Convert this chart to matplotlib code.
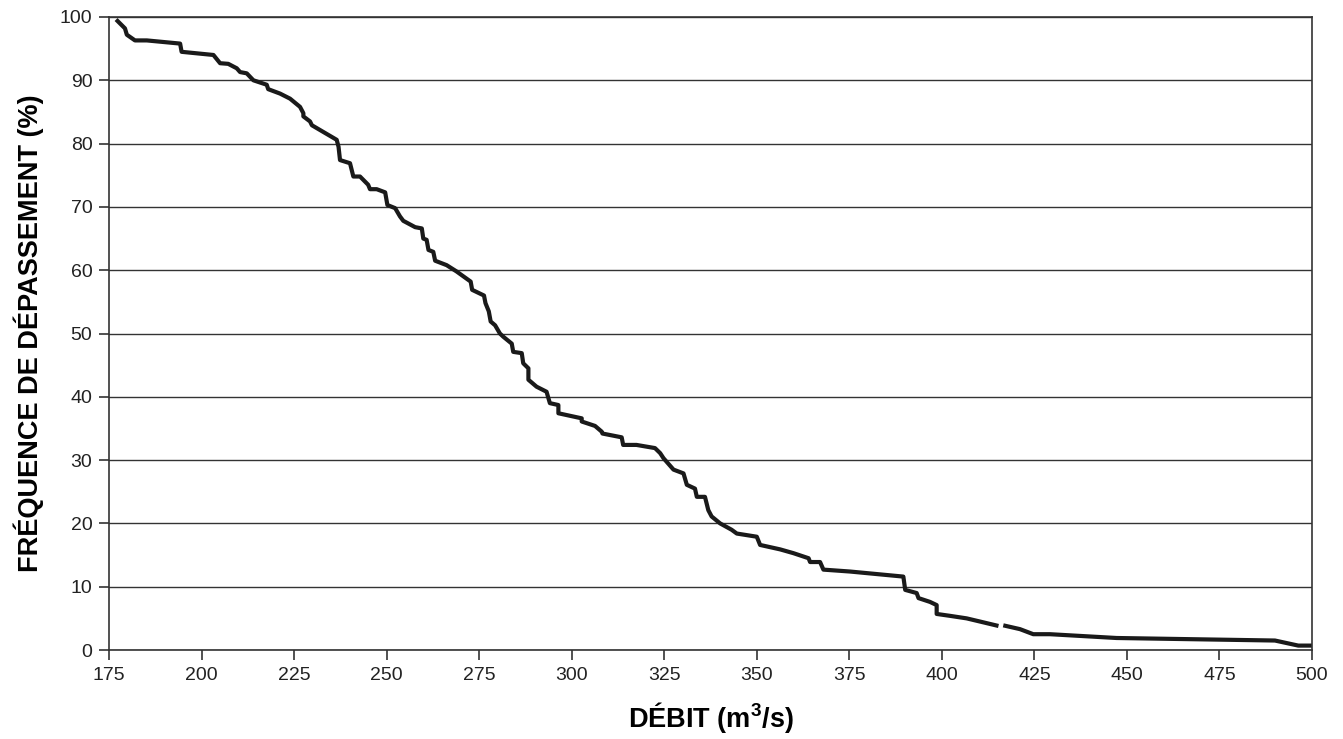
import matplotlib.pyplot as plt
import numpy as np

plt.rcParams['font.family'] = ['Liberation Sans', 'DejaVu Sans']
plt.rcParams['mathtext.fontset'] = 'custom'
plt.rcParams['mathtext.rm'] = 'Liberation Sans'
plt.rcParams['mathtext.bf'] = 'Liberation Sans:bold'

# débit (m3/s) et fréquence de dépassement (%)
debit = [176.9, 179.3, 179.8, 182.0, 185.2, 194.2, 194.6, 203.2, 205.0, 207.2,
         209.5, 210.4, 212.2, 214.0, 217.6, 218.0, 221.2, 223.9, 226.6, 227.5,
         227.5, 229.3, 229.8, 236.5, 237.0, 237.4, 240.1, 241.0, 242.8, 245.0,
         245.5, 247.3, 249.6, 250.2, 252.3, 253.6, 254.5, 257.7, 259.5, 259.9,
         260.8, 261.3, 262.6, 263.1, 266.2, 268.9, 272.7, 273.1, 276.3, 276.7,
         277.6, 278.1, 279.3, 280.6, 281.5, 283.8, 284.2, 286.5, 286.9, 288.3,
         288.3, 290.5, 293.2, 294.1, 296.4, 296.4, 302.7, 302.7, 306.3, 308.1,
         308.3, 313.5, 313.9, 317.5, 322.5, 323.9, 324.8, 327.5, 330.2, 331.1,
         333.3, 333.8, 336.0, 336.9, 337.8, 340.1, 343.2, 344.6, 350.0, 350.9,
         356.3, 359.9, 364.0, 364.4, 367.1, 368.0, 375.2, 389.6, 390.1, 393.2,
         393.7, 396.8, 398.6, 398.6, 402.2, 406.7, 410.3, 415.3, 416.0, 416.6,
         421.1, 424.7, 429.2, 447.2, 490.0, 496.3, 500.0]
frequence = [99.6, 98.2, 97.2, 96.3, 96.3, 95.8, 94.5, 94.0, 92.7, 92.6,
             91.9, 91.3, 91.1, 90.0, 89.3, 88.6, 87.9, 87.1, 85.8, 84.8,
             84.3, 83.5, 82.9, 80.6, 79.5, 77.4, 76.9, 74.8, 74.8, 73.5,
             72.8, 72.8, 72.3, 70.3, 69.8, 68.5, 67.8, 66.8, 66.6, 65.0,
             64.8, 63.2, 62.9, 61.5, 60.8, 59.8, 58.2, 56.9, 56.0, 54.8,
             53.5, 51.9, 51.3, 50.0, 49.5, 48.4, 47.1, 46.9, 45.3, 44.5,
             42.7, 41.6, 40.8, 39.0, 38.7, 37.4, 36.6, 36.1, 35.4, 34.5,
             34.2, 33.6, 32.4, 32.4, 31.9, 31.1, 30.3, 28.5, 27.9, 26.1,
             25.5, 24.2, 24.2, 22.1, 21.1, 20.0, 19.0, 18.4, 17.9, 16.6,
             15.9, 15.3, 14.5, 13.9, 13.9, 12.7, 12.4, 11.6, 9.5, 9.0,
             8.2, 7.6, 7.1, 5.7, 5.4, 5.0, 4.5, 3.8, np.nan, 3.9,
             3.3, 2.5, 2.5, 1.9, 1.5, 0.7, 0.7]

fig = plt.figure(figsize=(13.43, 7.39), dpi=100)
ax = fig.add_axes([0.0812, 0.1204, 0.8957, 0.8566])

ax.plot(debit, frequence, color='#1a1a1a', linewidth=3.0, solid_capstyle='butt')

ax.set_xlim(175, 500)
ax.set_ylim(0, 100)
ax.set_xticks(np.arange(175, 501, 25))
ax.set_yticks(np.arange(0, 101, 10))
ax.yaxis.grid(True, color='#333333', linewidth=1.0)
ax.set_axisbelow(True)
for s in ax.spines.values():
    s.set_color('#333333')
    s.set_linewidth(1.2)
ax.tick_params(direction='out', length=7, width=1.2, color='#333333',
               labelsize=14, labelcolor='#222222', pad=5)

ax.set_xlabel(r'DÉBIT (m$^{\mathbf{3}}$/s)', fontsize=19.5, fontweight='bold', labelpad=12)
ax.set_ylabel('FRÉQUENCE DE DÉPASSEMENT (%)', fontsize=19.5, fontweight='bold', labelpad=11)

fig.savefig('out.png', dpi=100)
